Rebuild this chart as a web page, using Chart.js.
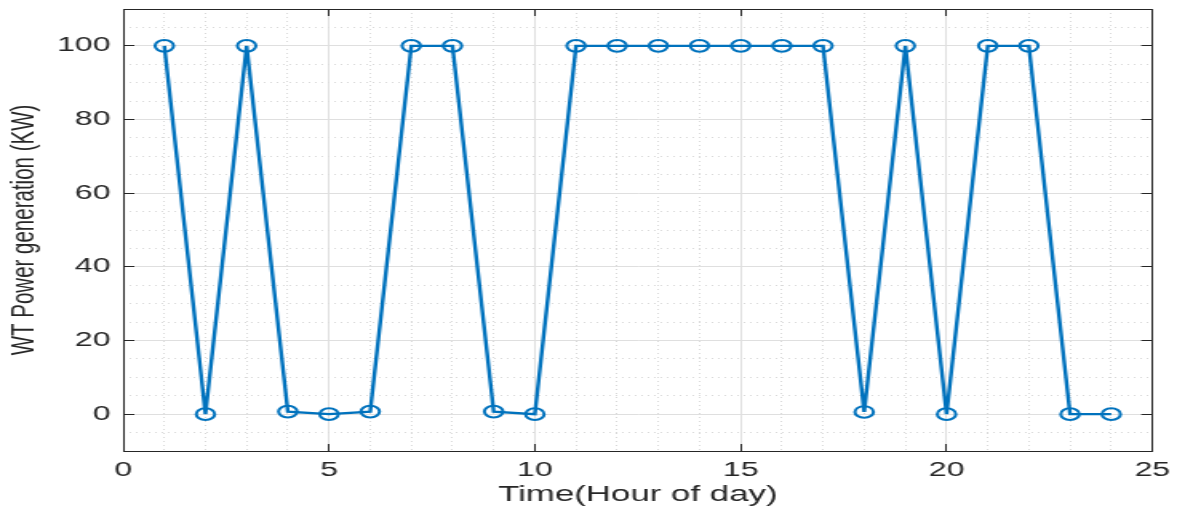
<!DOCTYPE html>
<html>
<head>
<meta charset="utf-8">
<title>WT Power generation</title>
<script src="https://cdn.jsdelivr.net/npm/chart.js@4.4.1/dist/chart.umd.min.js"></script>
<style>
  html, body { margin: 0; padding: 0; background: #fff; overflow: hidden; }
  /* the reference is a figure stretched sideways, so draw narrow and stretch */
  #wrap { width: 736px; height: 508px; transform: scaleX(1.5992); transform-origin: 0 0; }
</style>
</head>
<body>
<div id="wrap"><canvas id="chart"></canvas></div>
<script>
const hours = [1, 2, 3, 4, 5, 6, 7, 8, 9, 10, 11, 12, 13, 14, 15, 16, 17, 18, 19, 20, 21, 22, 23, 24];
const power = [100, 0, 100, 0.7, 0, 0.7, 100, 100, 0.7, 0, 100, 100, 100, 100, 100, 100, 100, 0.6, 100, 0, 100, 100, 0, 0];
const xTicks = [0, 5, 10, 15, 20, 25];
const yTicks = [0, 20, 40, 60, 80, 100];

const fontFamily = "'Liberation Sans', Arial, Helvetica, sans-serif";
const axisColor = '#262626';
const majorGrid = '#dfdfdf';
const minorGrid = '#d9d9d9';
const none = 'rgba(0,0,0,0)';

const setX = s => { s.ticks = xTicks.map(v => ({value: v})); };
const setY = s => { s.ticks = yTicks.map(v => ({value: v})); };

// fixed box sizes so the plot area sits where the reference has it
function fixSize(w, h) {
	return s => {
		if (w !== null) s.width = w;
		if (h !== null) s.height = h;
		s.paddingLeft = s.paddingRight = s.paddingTop = s.paddingBottom = 0;
	};
}

new Chart(document.getElementById('chart'), {
	type: 'line',
	data: {
		datasets: [{
			data: hours.map((h, i) => ({x: h, y: power[i]})),
			borderColor: '#0072BD',
			borderWidth: 2.4,
			tension: 0,
			pointStyle: 'circle',
			pointRadius: 5.8,
			pointBorderWidth: 2,
			pointBackgroundColor: none,
			pointBorderColor: '#0072BD',
			xAxisID: 'x',
			yAxisID: 'y',
			clip: false
		}]
	},
	options: {
		responsive: true,
		maintainAspectRatio: false,
		animation: false,
		events: [],
		layout: { padding: 0 },
		plugins: { legend: { display: false }, tooltip: { enabled: false } },
		scales: {
			x: {
				type: 'linear', position: 'bottom', min: 0, max: 25,
				afterBuildTicks: setX,
				afterFit: fixSize(null, 57),
				grid: { color: majorGrid, tickLength: -7, tickColor: axisColor },
				border: { color: axisColor, width: 1 },
				ticks: { color: axisColor, font: { family: fontFamily, size: 20 }, padding: 14, maxRotation: 0, autoSkip: false },
				title: { display: true, text: 'Time(Hour of day)', color: axisColor,
					font: { family: fontFamily, size: 21.8 }, padding: { top: 0, bottom: 0 } }
			},
			xm: {
				type: 'linear', position: 'bottom', min: 0, max: 25,
				afterFit: fixSize(null, 0),
				ticks: { display: false, stepSize: 1 },
				grid: { drawTicks: false, color: c => c.tick.value % 5 === 0 ? none : minorGrid },
				border: { display: false, dash: [1, 3] }
			},
			xt: {
				type: 'linear', position: 'top', min: 0, max: 25,
				afterBuildTicks: setX,
				afterFit: fixSize(null, 9),
				grid: { drawOnChartArea: false, tickLength: -7, tickColor: axisColor },
				border: { color: axisColor, width: 1 },
				ticks: { display: false }
			},
			y: {
				type: 'linear', position: 'left', min: -10, max: 110,
				afterBuildTicks: setY,
				afterFit: fixSize(77, null),
				grid: { color: majorGrid, tickLength: -7, tickColor: axisColor },
				border: { color: axisColor, width: 1 },
				ticks: { color: axisColor, font: { family: fontFamily, size: 20 }, padding: 15, autoSkip: false },
				title: { display: true, text: 'WT Power generation (KW)', color: axisColor,
					font: { family: fontFamily, size: 20.5 }, padding: { top: 3.3, bottom: 0 } }
			},
			ym: {
				type: 'linear', position: 'left', min: -10, max: 110,
				afterFit: fixSize(0, null),
				ticks: { display: false, stepSize: 5 },
				grid: { drawTicks: false, color: c => (c.tick.value % 20 === 0 && c.tick.value >= 0 && c.tick.value <= 100) || c.tick.value <= -10 || c.tick.value >= 110 ? none : minorGrid },
				border: { display: false, dash: [1, 3] }
			},
			yr: {
				type: 'linear', position: 'right', min: -10, max: 110,
				afterBuildTicks: setY,
				afterFit: fixSize(15.4, null),
				grid: { drawOnChartArea: false, tickLength: -7, tickColor: axisColor },
				border: { color: axisColor, width: 1 },
				ticks: { display: false }
			}
		}
	}
});
</script>
</body>
</html>
